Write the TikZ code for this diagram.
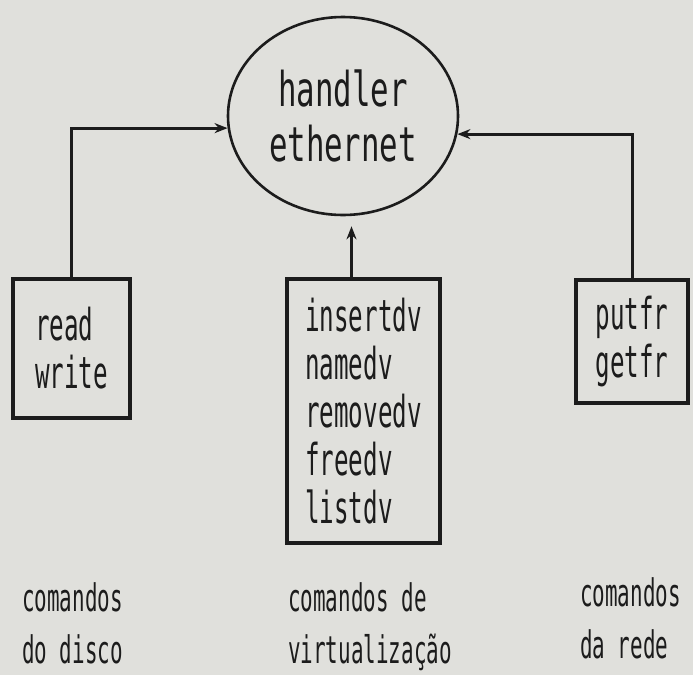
\documentclass[tikz,border=0pt]{standalone}
\usepackage{fontspec}
\usetikzlibrary{arrows.meta,shapes.geometric,calc}
% narrow printer-like lettering
\newfontfamily\dotfont[FakeStretch=0.55]{DejaVu Sans Mono}
\newfontfamily\dotwide[FakeStretch=0.64]{DejaVu Sans Mono}
\definecolor{paper}{RGB}{224,224,220}
\definecolor{ink}{RGB}{28,28,28}

\begin{document}
\begin{tikzpicture}[x=1pt,y=-1pt,
  ink,
  link/.style={line width=3pt, -{Stealth[length=13pt,width=10pt]}},
  cmdbox/.style={draw, rectangle, line width=3.2pt, inner sep=0pt, align=left,
    font=\dotfont\fontsize{44}{48}\selectfont},
  hub/.style={draw, ellipse, line width=2.6pt, inner sep=0pt, align=center,
    minimum width=230pt, minimum height=198pt,
    font=\dotwide\fontsize{48}{55}\selectfont},
  caption/.style={inner sep=0pt, align=left, anchor=base west,
    font=\dotfont\fontsize{38}{52}\selectfont}]

  % paper
  \fill[paper] (0,0) rectangle (693,675);
  \useasboundingbox (0,0) rectangle (693,675);

  % central handler
  \node[hub] (hub) at (343,116) {handler\\ethernet};

  % command groups
  \node[cmdbox, minimum width=117pt, minimum height=139pt] (disk) at (71.5,348.5) {read\\write};
  \node[cmdbox, minimum width=153pt, minimum height=264pt] (virt) at (363.5,411) {insertdv\\namedv\\removedv\\freedv\\listdv};
  \node[cmdbox, minimum width=112pt, minimum height=123pt] (net) at (632,341.5) {putfr\\getfr};

  % connections into the handler
  \draw[link] (disk.north) |- (hub.186);
  \draw[link] (net.north) |- (hub.351);
  \coordinate (vtop) at ($(virt.north)+(-12,0)$);
  \draw[link, shorten >=10pt] (vtop) -- (vtop |- hub.south);

  % group captions (anchored at the baseline of the second line)
  \node[caption] (capdisk) at (22,663) {comandos\\do disco};
  \node[caption] (capvirt) at (288,663) {comandos de\\virtualização};
  \node[caption] (capnet) at (580,658) {comandos\\da rede};
\end{tikzpicture}
\end{document}
